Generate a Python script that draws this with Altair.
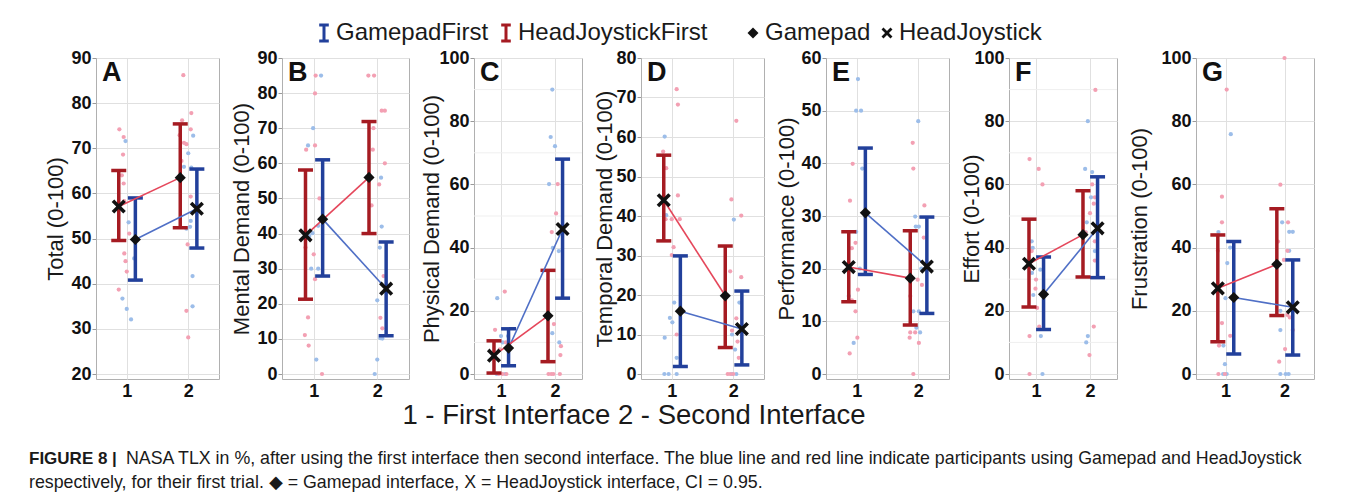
import altair as alt
import pandas as pd

FONT = "Liberation Sans"

groups = ["GamepadFirst", "HeadJoystickFirst"]
interfaces = ["Gamepad", "HeadJoystick"]
trials = [1, 2]
iface_by_group = {"GamepadFirst": ["Gamepad", "HeadJoystick"],
                  "HeadJoystickFirst": ["HeadJoystick", "Gamepad"]}

letters = ["A", "B", "C", "D", "E", "F", "G"]
y_titles = ["Total (0-100)", "Mental Demand (0-100)", "Physical Demand (0-100)",
            "Temporal Demand (0-100)", "Performance (0-100)", "Effort (0-100)",
            "Frustration (0-100)"]
y_lo = [20, 0, 0, 0, 0, 0, 0]
y_hi = [90, 90, 100, 80, 60, 100, 100]
y_step = [10, 10, 20, 10, 10, 20, 20]
minor_grid = [[], [], [10, 30, 50, 70, 90], [], [], [10, 30, 50, 70, 90], []]

# group means and 95% CI, [trial 1, trial 2]
gp_mean = [[49.8, 56.6], [44.1, 24.3], [8.2, 45.9], [15.9, 11.4], [30.6, 20.4], [25.2, 46.1], [24.2, 21.1]]
gp_lo = [[40.8, 47.9], [27.9, 10.9], [2.6, 24.0], [1.9, 2.3], [18.9, 11.5], [14.1, 30.5], [6.3, 6.0]]
gp_hi = [[59.0, 65.4], [61.0, 37.6], [14.3, 68.0], [29.9, 21.0], [42.9, 29.8], [37.0, 62.4], [41.9, 36.1]]
hj_mean = [[57.1, 63.5], [39.5, 56.0], [5.8, 18.4], [44.0, 19.8], [20.3, 18.2], [34.9, 44.1], [27.1, 34.7]]
hj_lo = [[49.6, 52.4], [21.3, 40.0], [0.3, 3.9], [33.7, 6.7], [13.7, 9.3], [21.2, 30.7], [10.2, 18.5]]
hj_hi = [[65.1, 75.4], [58.1, 71.9], [10.5, 32.8], [55.4, 32.4], [27.0, 27.2], [49.0, 58.0], [44.0, 52.3]]

# individual participant scores (jittered x position, score)
gp_px = [
    [0.98, 1.03, 1.12, 0.93, 1.0, 1.07, 2.08, 2.0, 1.93, 2.05, 2.04, 2.03, 1.97, 2.07, 2.07],
    [1.115, 0.99, 0.91, 0.98, 0.93, 1.07, 0.96, 1.07, 1.04, 2.06, 2.07, 2.04, 2.0, 2.05, 2.08, 2.0, 1.96],
    [0.93, 1.0, 1.13, 1.03, 0.92, 1.08, 1.95, 1.92, 2.0, 1.89, 1.96, 2.07, 1.95, 2.08],
    [0.885, 0.91, 1.04, 0.97, 1.01, 0.885, 1.08, 0.88, 0.95, 1.08, 2.01, 2.1, 1.98, 2.03, 1.98, 2.05],
    [1.02, 0.99, 1.07, 1.09, 0.99, 1.05, 0.87, 0.95, 2.0, 1.95, 1.96, 2.01, 2.05, 1.92, 2.01, 1.97, 2.03],
    [0.92, 0.94, 0.925, 1.08, 0.95, 1.09, 1.12, 1.96, 1.91, 2.04, 2.02, 1.94, 1.92, 2.09, 1.96, 1.93],
    [1.09, 0.88, 1.08, 1.03, 1.0, 0.965, 0.99, 0.96, 1.02, 1.96, 2.08, 2.08, 2.14, 1.93, 1.93, 1.93, 2.02, 2.07],
]
gp_py = [
    [71.6, 53.6, 45.6, 36.7, 34.4, 32.1, 72.8, 68.9, 65.9, 65.7, 53.9, 52.6, 52.2, 41.7, 35.0],
    [85, 70, 65.1, 40.1, 39.3, 42.2, 30, 30, 4.1, 55.9, 42, 36, 21, 10.2, 10.1, 4.1, 0],
    [24, 12, 12, 10, 0, 0, 90, 75, 72.1, 60.1, 39.9, 38.9, 12.9, 10],
    [60.1, 40.2, 18.1, 14.2, 13.1, 9.2, 4.1, 0, 0, 0, 39.1, 18.1, 10, 6.2, 0, 0],
    [56, 50, 50, 39, 27, 20, 14.8, 5.9, 48, 29.9, 28, 28, 20, 11.9, 11.9, 8.8, 7.9],
    [42, 39.9, 32, 33, 25, 12, 0, 80, 64.9, 63.9, 55.9, 48, 44.8, 38.9, 12, 10],
    [75.9, 44.9, 40, 35.1, 24, 9, 3.1, 0, 0, 48, 39, 45, 45, 20, 13.9, 0, 0, 0],
]
hj_px = [
    [0.88, 0.95, 0.94, 0.92, 0.95, 0.96, 1.04, 0.96, 0.98, 1.0, 0.87,
     1.92, 1.90, 2.05, 1.86, 1.93, 1.97, 2.04, 1.89, 2.04, 1.99, 1.97, 2.0],
    [1.03, 1.02, 0.88, 1.02, 1.09, 0.87, 1.0, 1.02, 0.91, 0.86, 0.92, 1.13,
     1.86, 1.95, 1.94, 1.93, 2.07, 2.12, 2.12, 2.03, 1.91, 2.1, 2.05, 2.08],
    [1.07, 0.89, 0.98, 1.09, 0.96, 1.03, 1.1,
     2.05, 2.02, 1.94, 1.98, 1.88, 1.93, 1.97, 2.11, 2.1, 2.09],
    [1.08, 1.10, 0.86, 0.91, 1.10, 0.9, 1.0, 1.13, 1.03, 1.0, 1.08,
     2.05, 1.97, 2.13, 1.95, 2.13, 2.05, 1.98, 2.07, 2.09, 1.91, 1.95, 2.0],
    [0.934, 0.89, 0.98, 0.92, 1.02, 0.98, 1.01, 0.885, 0.92,
     1.91, 1.92, 2.1, 2.09, 1.99, 2.06, 1.87, 1.87, 1.95, 1.86, 2.01, 1.92],
    [0.88, 1.05, 1.12, 0.92, 1.0, 0.99, 1.02, 1.06, 0.88, 0.88,
     2.1, 2.04, 2.09, 2.07, 2.0, 2.09, 1.92, 2.09, 2.07, 1.99],
    [1.02, 0.94, 0.94, 0.87, 0.94, 1.08, 0.89, 0.88, 0.99,
     2.0, 1.93, 1.89, 2.06, 2.05, 1.99, 2.05, 2.09, 2.14, 2.01, 1.91],
]
hj_py = [
    [74.2, 72.5, 68.6, 64.0, 62.2, 58.3, 51.1, 46.7, 45.0, 42.7, 38.7,
     86.2, 76.2, 77.8, 72.9, 71.2, 70.9, 74.2, 67.2, 59.3, 48.7, 34.0, 28.1],
    [85, 79.9, 63.9, 65.1, 50, 36, 34.1, 27, 16.1, 11.1, 8.1, 0,
     85, 85, 70, 63.9, 75, 75, 60, 54, 48, 27.9, 16, 13],
    [26.1, 14, 7.8, 10, 0, 0, 0,
     60.1, 50.8, 44.9, 15.8, 0, 0, 0, 8.8, 6, 0],
    [72.1, 68.2, 56.3, 52.1, 45.2, 39.2, 39.2, 39.2, 32.1, 30.1, 10,
     64.1, 44.2, 40.1, 26, 24.5, 14.1, 11, 8.2, 4.1, 0, 0, 0],
    [39.9, 32.9, 24.9, 23.9, 16, 11.9, 6.9, 3.9, 14.0,
     43.9, 39, 32, 25.9, 17.9, 16.9, 14.8, 7.9, 7.9, 6.9, 5.9, 0],
    [68, 64.9, 60, 38.9, 29.9, 27, 20.9, 15, 12, 0,
     89.9, 60, 55.9, 53.9, 50.9, 42, 44.8, 35.9, 15, 6],
    [90, 56.1, 48, 39, 16.1, 12.1, 9, 0, 0,
     100, 59.9, 41.9, 48, 39, 36.1, 18.7, 17.9, 13.9, 7.9, 3.9],
]

x_axis_title = "1 - First Interface 2 - Second Interface"
caption_head = "FIGURE 8 |"
caption_line1 = ("NASA TLX in %, after using the first interface then second interface. "
                 "The blue line and red line indicate participants using Gamepad and HeadJoystick")
caption_line2 = ("respectively, for their first trial. \u25c6 = Gamepad interface, "
                 "X = HeadJoystick interface, CI = 0.95.")

# ---- styles ----
panel_w = [123, 127, 108, 123, 123, 108, 118]
title_pad = [3, 3, -5, -1, 2, -10, 9]
PANEL_H = 321
BAR_BLUE, BAR_RED = "#22409b", "#a51b22"
LINE_BLUE, LINE_RED = "#4f6fc6", "#e5475b"
PT_BLUE, PT_PINK = "#9cbde9", "#f3a0b3"
# filled "x" outline (arms at 45 degrees)
XPATH = ("M0,-0.36L0.64,-1L1,-0.64L0.36,0L1,0.64L0.64,1L0,0.36"
         "L-0.64,1L-1,0.64L-0.36,0L-1,-0.64L-0.64,-1Z")
IBEAM = "M-0.6,-1H0.6M0,-1V1M-0.6,1H0.6"

color_enc = alt.Color(
    "group:N",
    scale=alt.Scale(domain=groups, range=[BAR_BLUE, BAR_RED]),
    legend=alt.Legend(title=None, orient="none", legendX=283, legendY=-37,
                      direction="horizontal", symbolType=IBEAM, symbolSize=256,
                      symbolStrokeWidth=3, symbolOpacity=1, labelFont=FONT,
                      labelFontSize=24, labelLimit=400, labelColor="#1a1a1a",
                      labelOffset=0, columnPadding=5, padding=0),
)
shape_enc = alt.Shape(
    "interface:N",
    scale=alt.Scale(domain=interfaces, range=["diamond", XPATH]),
    legend=alt.Legend(title=None, orient="none", legendX=712, legendY=-37,
                      direction="horizontal", symbolSize=120, symbolOpacity=1,
                      symbolFillColor="#111111", labelFont=FONT, labelFontSize=24,
                      labelLimit=400, labelColor="#1a1a1a", labelOffset=0,
                      columnPadding=4, padding=0),
)


def make_panel(i):
    lo, hi = y_lo[i], y_hi[i]
    pad = (hi - lo) * 5.0 / 316.0
    yscale = alt.Scale(domain=[lo - pad, hi], nice=False, zero=False)
    xscale = alt.Scale(domain=[0.5, 2.5], nice=False, zero=False)
    yaxis = alt.Axis(values=list(range(lo, hi + 1, y_step[i])), title=y_titles[i],
                     titleFont=FONT, titleFontSize=22, titleFontWeight="normal",
                     titleColor="#1a1a1a", titlePadding=title_pad[i], labelFont=FONT,
                     labelFontSize=18, labelFontWeight="bold", labelColor="#111111",
                     labelPadding=1, tickSize=4, tickColor="#9a9a9a", domain=False,
                     gridColor="#e0e0e0")
    xaxis = alt.Axis(values=[1, 2], format="d", title=None, labelFont=FONT,
                     labelFontSize=18, labelFontWeight="bold", labelColor="#111111",
                     ticks=False, domain=False, labelPadding=3, gridColor="#e0e0e0")
    X = lambda f: alt.X(f, scale=xscale, axis=xaxis)
    Y = lambda f: alt.Y(f, scale=yscale, axis=yaxis)

    gp_pts = pd.DataFrame({"x": gp_px[i], "y": gp_py[i]})
    hj_pts = pd.DataFrame({"x": hj_px[i], "y": hj_py[i]})
    rows = []
    for g, m, l, h in ((groups[0], gp_mean[i], gp_lo[i], gp_hi[i]),
                       (groups[1], hj_mean[i], hj_lo[i], hj_hi[i])):
        for k, t in enumerate(trials):
            rows.append({"group": g, "trial": t, "mean": m[k], "lo": l[k], "hi": h[k],
                         "interface": iface_by_group[g][k]})
    summ = pd.DataFrame(rows)

    base = alt.Chart(summ).transform_calculate(
        xpos="datum.trial + (datum.group == 'GamepadFirst' ? 0.14 : -0.13)")

    layers = []
    if minor_grid[i]:
        layers.append(alt.Chart(pd.DataFrame({"v": minor_grid[i]})).mark_rule(
            color="#efefef", strokeWidth=1).encode(y=Y("v:Q")))
    layers += [
        alt.Chart(gp_pts).mark_circle(size=18, color=PT_BLUE, opacity=1).encode(
            x=X("x:Q"), y=Y("y:Q")),
        alt.Chart(hj_pts).mark_circle(size=18, color=PT_PINK, opacity=1).encode(
            x=X("x:Q"), y=Y("y:Q")),
        base.mark_rule(strokeWidth=3.5).encode(
            x=X("xpos:Q"), y=Y("lo:Q"), y2="hi:Q", color=color_enc),
        base.mark_tick(orient="horizontal", size=15, thickness=3.5, opacity=1).encode(
            x=X("xpos:Q"), y=Y("lo:Q"), color=color_enc),
        base.mark_tick(orient="horizontal", size=15, thickness=3.5, opacity=1).encode(
            x=X("xpos:Q"), y=Y("hi:Q"), color=color_enc),
        base.transform_filter("datum.group == 'GamepadFirst'").mark_line(
            color=LINE_BLUE, strokeWidth=1.6).encode(x=X("xpos:Q"), y=Y("mean:Q")),
        base.transform_filter("datum.group == 'HeadJoystickFirst'").mark_line(
            color=LINE_RED, strokeWidth=1.6).encode(x=X("xpos:Q"), y=Y("mean:Q")),
        base.transform_filter("datum.interface == 'Gamepad'").mark_point(
            filled=True, color="#111111", size=125, opacity=1).encode(
            x=X("xpos:Q"), y=Y("mean:Q"), shape=shape_enc),
        base.transform_filter("datum.interface == 'HeadJoystick'").mark_point(
            filled=True, color="#111111", size=200, opacity=1).encode(
            x=X("xpos:Q"), y=Y("mean:Q"), shape=shape_enc),
        alt.Chart(pd.DataFrame({"t": [letters[i]]})).mark_text(
            font=FONT, fontSize=27, fontWeight="bold", align="left", baseline="top",
            color="#111111").encode(text="t:N", x=alt.value(6), y=alt.value(2)),
    ]
    return alt.layer(*layers).properties(
        width=panel_w[i], height=PANEL_H,
        view=alt.ViewBackground(stroke="#b0b0b0", strokeWidth=1))


spacer = alt.Chart(pd.DataFrame({"v": [0]})).mark_point(opacity=0).encode(
    x=alt.value(0), y=alt.value(0)).properties(width=4, height=PANEL_H)

row = alt.hconcat(spacer, *[make_panel(i) for i in range(7)], spacing=10)

footer = alt.layer(
    alt.Chart(pd.DataFrame({"t": [x_axis_title]})).mark_text(
        font=FONT, fontSize=27.5, align="center", baseline="middle", color="#1a1a1a"
    ).encode(text="t:N", x=alt.value(605), y=alt.value(7)),
    alt.Chart(pd.DataFrame({"t": [caption_head]})).mark_text(
        font=FONT, fontSize=17, fontWeight="bold", align="left", baseline="middle",
        color="#1a1a1a").encode(text="t:N", x=alt.value(0), y=alt.value(50)),
    alt.Chart(pd.DataFrame({"t": [caption_line1]})).mark_text(
        font=FONT, fontSize=17.8, align="left", baseline="middle", color="#1a1a1a"
    ).encode(text="t:N", x=alt.value(97), y=alt.value(50)),
    alt.Chart(pd.DataFrame({"t": [caption_line2]})).mark_text(
        font=FONT, fontSize=17.8, align="left", baseline="middle", color="#1a1a1a"
    ).encode(text="t:N", x=alt.value(0), y=alt.value(74)),
).properties(width=1290, height=95)

chart = alt.vconcat(row, footer, spacing=0).properties(
    padding={"left": 17, "top": 13, "right": 0, "bottom": 0},
    background="white",
).configure_view(stroke="transparent")

chart.save("out.html", embed_options={"renderer": "svg", "actions": False})
